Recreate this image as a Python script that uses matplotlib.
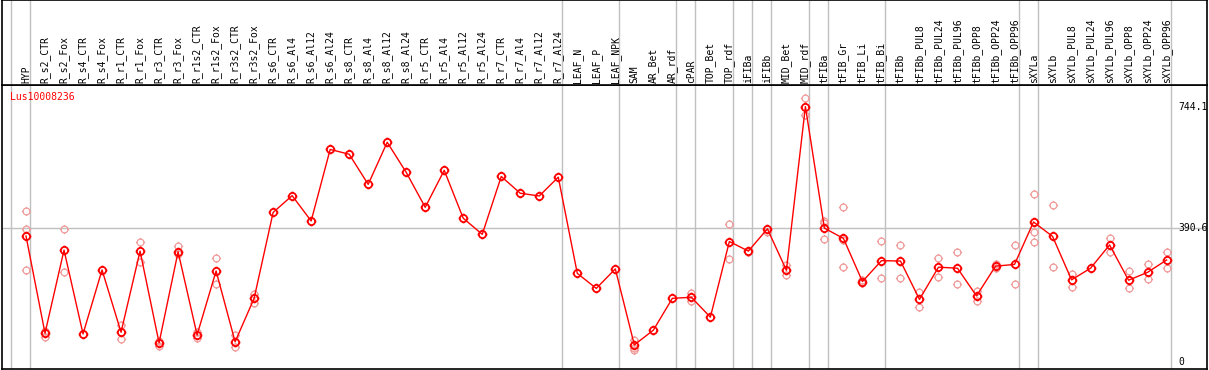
import numpy as np
import matplotlib
matplotlib.use("Agg")
import matplotlib.pyplot as plt
from matplotlib.path import Path
from matplotlib.markers import MarkerStyle

# ---------------- data ----------------
gene_name = "Lus10008236"

samples = ["HYP", "R_s2_CTR", "R_s2_Fox", "R_s4_CTR", "R_s4_Fox", "R_r1_CTR", "R_r1_Fox",
           "R_r3_CTR", "R_r3_Fox", "R_r1s2_CTR", "R_r1s2_Fox", "R_r3s2_CTR", "R_r3s2_Fox",
           "R_s6_CTR", "R_s6_Al4", "R_s6_Al12", "R_s6_Al24", "R_s8_CTR", "R_s8_Al4",
           "R_s8_Al12", "R_s8_Al24", "R_r5_CTR", "R_r5_Al4", "R_r5_Al12", "R_r5_Al24",
           "R_r7_CTR", "R_r7_Al4", "R_r7_Al12", "R_r7_Al24", "LEAF_N", "LEAF_P", "LEAF_NPK",
           "SAM", "AR_Bet", "AR_rdf", "cPAR", "TOP_Bet", "TOP_rdf", "iFIBa", "iFIBb",
           "MID_Bet", "MID_rdf", "tFIBa", "tFIB_Gr", "tFIB_Li", "tFIB_Bi", "tFIBb",
           "tFIBb_PUL8", "tFIBb_PUL24", "tFIBb_PUL96", "tFIBb_OPP8", "tFIBb_OPP24",
           "tFIBb_OPP96", "sXYLa", "sXYLb", "sXYLb_PUL8", "sXYLb_PUL24", "sXYLb_PUL96",
           "sXYLb_OPP8", "sXYLb_OPP24", "sXYLb_OPP96"]

mean_values = [368, 84, 327, 82, 269, 87, 324, 56, 322, 79, 266, 59, 186,
               437, 486, 412, 621, 607, 519, 642, 554, 452, 560, 420, 373,
               542, 493, 485, 540, 259, 215, 272, 50, 93, 186, 189, 131,
               352, 324, 389, 268, 746, 391, 361, 235, 296, 295, 183, 277,
               274, 193, 280, 285, 409, 367, 240, 274, 342, 239, 262, 298]

nan = float("nan")
rep_1 = [442, 91, 388, nan, nan, 108, 350, 60, 339, 89, 304, 79, 199,
         nan, nan, nan, nan, nan, nan, nan, nan, nan, nan, nan, nan,
         nan, nan, nan, nan, nan, nan, nan, 64, nan, nan, 201, nan,
         402, 320, 381, 283, 770, 412, 452, 240, 354, 342, 204, 304,
         320, 208, 285, 341, 490, 458, 256, nan, 361, 266, 285, 320]
rep_2 = [388, 72, 262, nan, nan, 66, 293, 48, 315, 69, 227, 45, 171,
         nan, nan, nan, nan, nan, nan, nan, nan, nan, nan, nan, nan,
         nan, nan, nan, nan, nan, nan, nan, 35, nan, nan, 178, nan,
         301, nan, nan, 254, 723, 405, 277, 230, 244, 244, 162, 249,
         227, 179, 275, 227, 381, 278, 220, nan, 322, 215, 242, 274]
rep_3 = [268, nan, nan, nan, nan, nan, nan, nan, nan, nan, nan, nan, nan,
         nan, nan, nan, nan, nan, nan, nan, nan, nan, nan, nan, nan,
         nan, nan, nan, nan, nan, nan, nan, 40, nan, nan, nan, nan,
         nan, nan, nan, nan, nan, 359, 355, nan, nan, nan, nan, nan,
         nan, nan, nan, nan, 350, nan, nan, nan, nan, nan, nan, nan]

# index of last sample in each group (separator drawn after it)
group_ends = [-1, 0, 28, 31, 34, 35, 37, 38, 39, 41, 42, 45, 52, 53, 60]

axis_marks = [744.1, 390.6, 0]
axis_mark_labels = ["744.1", "390.6", "0"]

# ---------------- layout ----------------
W, H = 1209, 370
fig = plt.figure(figsize=(W / 100, H / 100), dpi=100)

def fx(px):
    return px / W

def fy(py):
    return 1 - py / H

left_px, right_px = 2, 1207
top_px, sep_px, bot_px = 0, 85, 369
x0_px, dx_px = 26.0, 19.01
x_lim = ((left_px - x0_px) / dx_px, (right_px - x0_px) / dx_px)
zero_px, scale = 362.0, 0.3423
y_lim = ((zero_px - bot_px) / scale, (zero_px - sep_px) / scale)

grid_col = "#c0c0c0"
mono = "DejaVu Sans Mono"

ax = fig.add_axes([fx(left_px), fy(bot_px), (right_px - left_px) / W, (bot_px - sep_px) / H])
axh = fig.add_axes([fx(left_px), fy(sep_px), (right_px - left_px) / W, (sep_px - top_px) / H])
for a in (ax, axh):
    a.set_xlim(*x_lim)
    a.set_xticks([])
    a.set_yticks([])
    for s in a.spines.values():
        s.set_color("black")
        s.set_linewidth(1.2)
ax.set_ylim(*y_lim)
axh.set_ylim(0, 1)

sep_off = 4.0 / dx_px
for g in group_ends:
    ax.axvline(g + sep_off, color=grid_col, lw=1, zorder=1)
    axh.axvline(g + sep_off, color=grid_col, lw=1, zorder=1)
ax.axhline(390.6, color=grid_col, lw=1, zorder=1)

# header labels
for i, s in enumerate(samples):
    axh.text(i, 2.0 / 85, s, rotation=90, ha="center", va="bottom",
             fontsize=7, family=mono, color="black",
             transform=axh.get_xaxis_transform())

# marker: circle with four small ticks
circ = Path.unit_circle()
tick_verts = []
tick_codes = []
for (dx, dy) in [(1, 0), (-1, 0), (0, 1), (0, -1)]:
    tick_verts += [(dx * 1.0, dy * 1.0), (dx * 1.35, dy * 1.35)]
    tick_codes += [Path.MOVETO, Path.LINETO]
ticks = Path(tick_verts, tick_codes)
mk = MarkerStyle(Path.make_compound_path(circ, ticks))

xs = np.arange(len(samples))
rep_col = "#f09a9a"
for reps in (rep_1, rep_2, rep_3):
    ax.plot(xs, reps, linestyle="none", marker=mk, markersize=6.6,
            markerfacecolor="none", markeredgecolor=rep_col, markeredgewidth=0.9,
            zorder=2)

ax.plot(xs, mean_values, color="#ff0000", lw=1.0, zorder=3)
ax.plot(xs, mean_values, linestyle="none", marker=mk, markersize=7.0,
        markerfacecolor="none", markeredgecolor="#ff0000", markeredgewidth=1.3,
        zorder=4)

# right-hand value marks
for v, t in zip(axis_marks, axis_mark_labels):
    ax.text((1178 - x0_px) / dx_px, v, t, ha="left", va="center",
            fontsize=7, family=mono, color="black")

ax.text((10 - left_px) / (right_px - left_px), 1 - 12.0 / (bot_px - sep_px), gene_name,
        transform=ax.transAxes, ha="left", va="center", fontsize=7, family=mono,
        color="#ff0000")

fig.savefig("out.png", dpi=100)
